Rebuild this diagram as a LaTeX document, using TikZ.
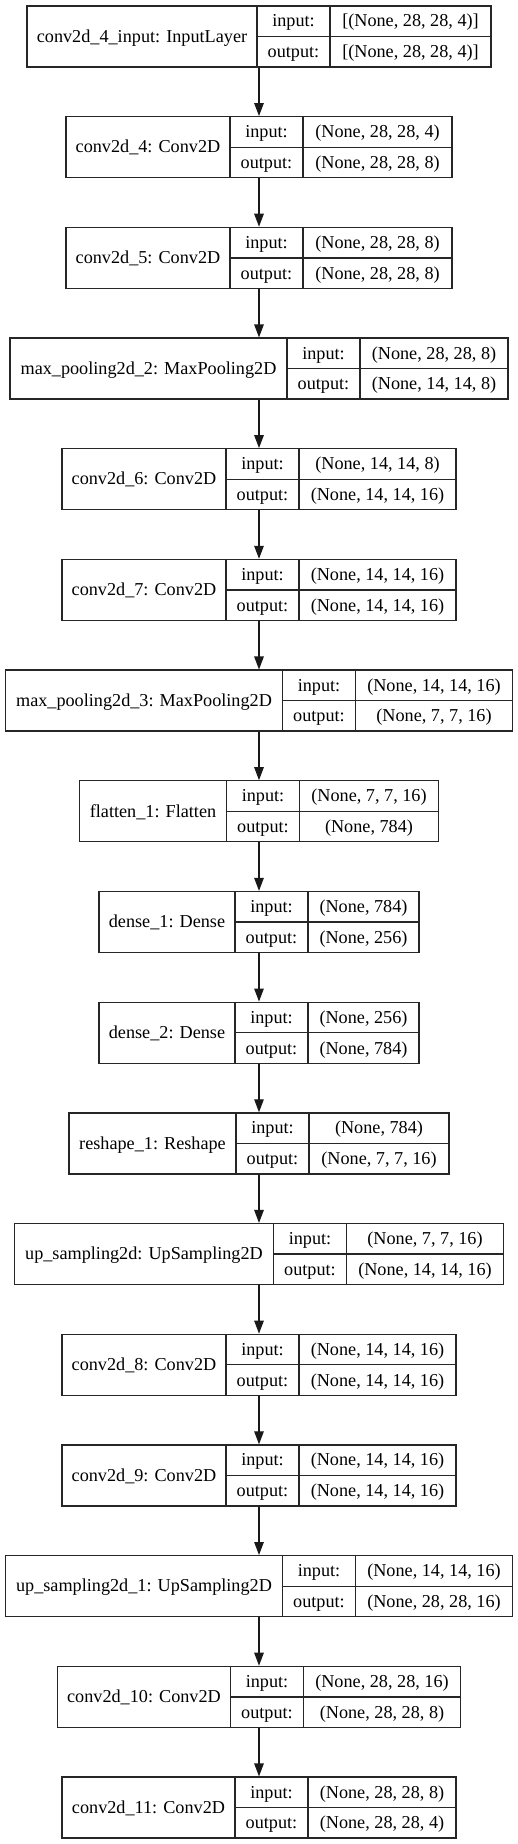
\documentclass[tikz,border=0pt]{standalone}
\usepackage{fontspec}
\setmainfont{Liberation Serif}
\usetikzlibrary{arrows.meta}

\tikzset{
  layer/.style={draw=black!85, line width=1.3pt, inner sep=0pt, minimum height=61pt},
  rule/.style={draw=black!85, line width=1.3pt},
  lbl/.style={anchor=base, inner sep=0pt, font=\fontsize{18.2}{22}\selectfont},
  flow/.style={draw=black!90, line width=1.3pt, -{Triangle[length=13pt,width=9.5pt]}}
}

\begin{document}
\begin{tikzpicture}[x=1pt, y=-1pt]
        \useasboundingbox (0,0) rectangle (517,1844);
        % Layers (name cell width / shape cell width / texts)
        \foreach \aw/\cw/\title/\inp/\outp [count=\k from 0] in {
            230/161/{conv2d\_4\_input: InputLayer}/{[(None, 28, 28, 4)]}/{[(None, 28, 28, 4)]},
            164/149/{conv2d\_4: Conv2D}/{(None, 28, 28, 4)}/{(None, 28, 28, 8)},
            164/149/{conv2d\_5: Conv2D}/{(None, 28, 28, 8)}/{(None, 28, 28, 8)},
            277/148/{max\_pooling2d\_2: MaxPooling2D}/{(None, 28, 28, 8)}/{(None, 14, 14, 8)},
            164/157/{conv2d\_6: Conv2D}/{(None, 14, 14, 8)}/{(None, 14, 14, 16)},
            164/157/{conv2d\_7: Conv2D}/{(None, 14, 14, 16)}/{(None, 14, 14, 16)},
            277/157/{max\_pooling2d\_3: MaxPooling2D}/{(None, 14, 14, 16)}/{(None, 7, 7, 16)},
            147/139/{flatten\_1: Flatten}/{(None, 7, 7, 16)}/{(None, 784)},
            136/111/{dense\_1: Dense}/{(None, 784)}/{(None, 256)},
            136/111/{dense\_2: Dense}/{(None, 256)}/{(None, 784)},
            167/140/{reshape\_1: Reshape}/{(None, 784)}/{(None, 7, 7, 16)},
            259/157/{up\_sampling2d: UpSampling2D}/{(None, 7, 7, 16)}/{(None, 14, 14, 16)},
            164/157/{conv2d\_8: Conv2D}/{(None, 14, 14, 16)}/{(None, 14, 14, 16)},
            164/157/{conv2d\_9: Conv2D}/{(None, 14, 14, 16)}/{(None, 14, 14, 16)},
            277/157/{up\_sampling2d\_1: UpSampling2D}/{(None, 14, 14, 16)}/{(None, 28, 28, 16)},
            173/157/{conv2d\_10: Conv2D}/{(None, 28, 28, 16)}/{(None, 28, 28, 8)},
            173/148/{conv2d\_11: Conv2D}/{(None, 28, 28, 8)}/{(None, 28, 28, 4)}}
        {
            \pgfmathsetmacro{\ytop}{6+\k*110.69}
            \pgfmathsetmacro{\bw}{\aw+73+\cw}
            \pgfmathsetmacro{\lft}{259-\bw/2}
            \pgfmathsetmacro{\dA}{\lft+\aw}
            \pgfmathsetmacro{\dB}{\dA+73}
            \pgfmathsetmacro{\rgt}{\dB+\cw}
            \node[layer, minimum width=\bw pt] (L\k) at (259,{\ytop+30.5}) {};
            \draw[rule] (\dA,\ytop) -- (\dA,{\ytop+61});
            \draw[rule] (\dB,\ytop) -- (\dB,{\ytop+61});
            \draw[rule] (\dA,{\ytop+30.5}) -- (\rgt,{\ytop+30.5});
            % Texts
            \node[lbl] (N\k) at ({(\lft+\dA)/2},{\ytop+36.2}) {\title};
            \node[lbl] (I\k) at ({(\dA+\dB)/2},{\ytop+21}) {input:};
            \node[lbl] (O\k) at ({(\dA+\dB)/2},{\ytop+51.8}) {output:};
            \node[lbl] (S\k) at ({(\dB+\rgt)/2},{\ytop+21}) {\inp};
            \node[lbl] (T\k) at ({(\dB+\rgt)/2},{\ytop+51.8}) {\outp};
        }

        % Connections
        \foreach \k [evaluate=\k as \n using int(\k+1)] in {0,...,15}
            \draw[flow] (L\k.south) -- (L\n.north);
\end{tikzpicture}
\end{document}
